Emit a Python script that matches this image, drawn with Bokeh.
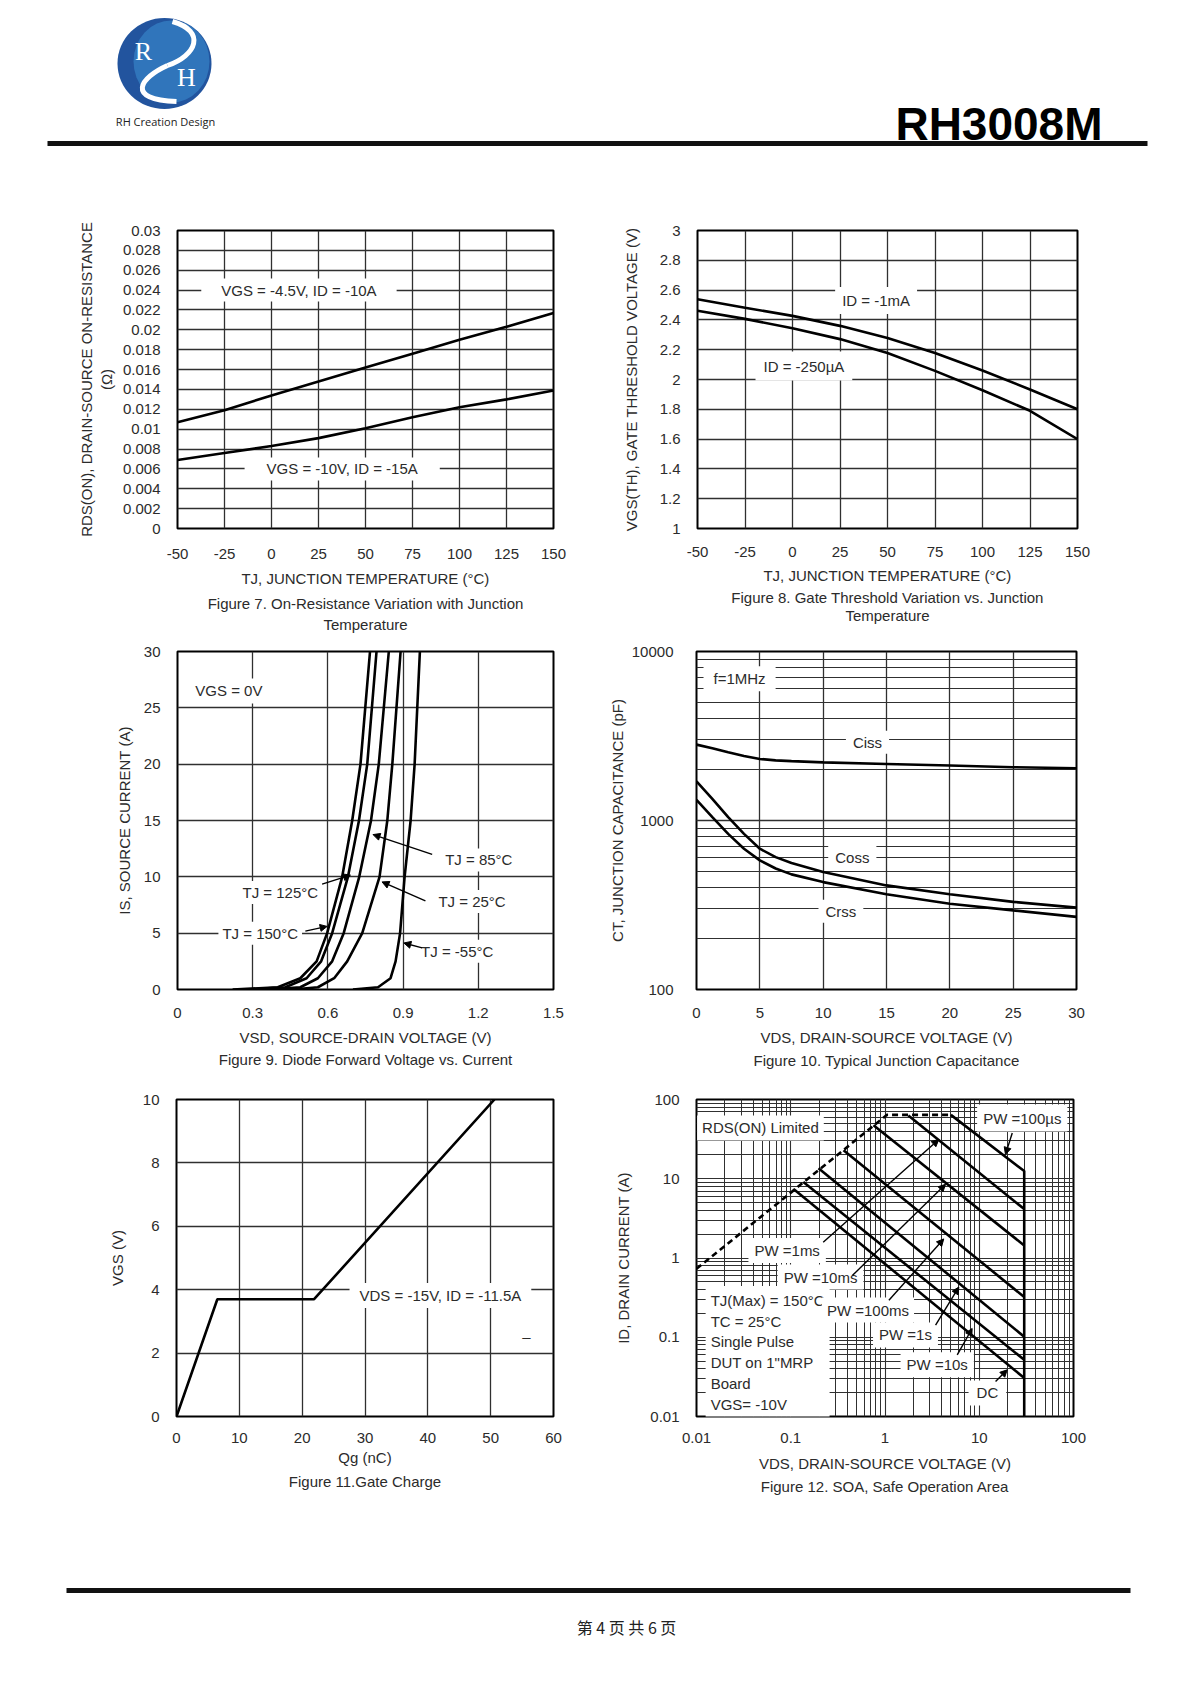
from bokeh.plotting import figure
from bokeh.models import (Range1d, FixedTicker, LogTicker, CustomJSTickFormatter,
                          Label, Arrow, NormalHead, Title)
from bokeh.layouts import column, row
from bokeh.embed import file_html
from bokeh.resources import INLINE
from bokeh.core.properties import value

# ======================= DATA =======================
# Figure 7 - On-resistance vs junction temperature
tj_c = [-50, -25, 0, 25, 50, 75, 100, 125, 150]
rds_vgs45 = [0.0107, 0.0119, 0.0134, 0.0148, 0.0162, 0.0176, 0.0190, 0.0203, 0.0217]
rds_vgs10 = [0.0069, 0.0076, 0.0083, 0.0091, 0.0101, 0.0112, 0.0122, 0.0130, 0.0139]
temp_ticks = [-50, -25, 0, 25, 50, 75, 100, 125, 150]
rds_ticks = [0, 0.002, 0.004, 0.006, 0.008, 0.01, 0.012, 0.014, 0.016,
             0.018, 0.02, 0.022, 0.024, 0.026, 0.028, 0.03]

# Figure 8 - Gate threshold vs junction temperature
vth_1ma = [2.538, 2.482, 2.427, 2.360, 2.278, 2.178, 2.060, 1.933, 1.800]
vth_250ua = [2.462, 2.407, 2.344, 2.271, 2.178, 2.058, 1.928, 1.790, 1.600]
vth_ticks = [1, 1.2, 1.4, 1.6, 1.8, 2, 2.2, 2.4, 2.6, 2.8, 3]

# Figure 9 - Diode forward voltage vs current
is_amp = [0, 0.2, 1, 2.5, 5, 10, 15, 20, 30]
vsd_150 = [0.22, 0.40, 0.490, 0.555, 0.597, 0.657, 0.697, 0.730, 0.768]
vsd_125 = [0.28, 0.43, 0.515, 0.573, 0.617, 0.680, 0.724, 0.757, 0.794]
vsd_85 = [0.36, 0.49, 0.560, 0.617, 0.663, 0.725, 0.772, 0.803, 0.843]
vsd_25 = [0.46, 0.56, 0.625, 0.677, 0.737, 0.806, 0.837, 0.857, 0.890]
vsd_m55 = [0.70, 0.80, 0.850, 0.870, 0.888, 0.906, 0.930, 0.946, 0.967]
vsd_ticks = [0, 0.3, 0.6, 0.9, 1.2, 1.5]
is_ticks = [0, 5, 10, 15, 20, 25, 30]

# Figure 10 - Junction capacitance
cap_vds = [0, 1.25, 2.5, 3.75, 5, 6.25, 7.5, 10, 15, 20, 25, 30]
ciss = [2812, 2680, 2535, 2410, 2312, 2270, 2245, 2208, 2161, 2115, 2066, 2037]
coss = [1706, 1343, 1047, 834, 681, 607, 560, 496, 413, 366, 330, 305]
crss = [1324, 1047, 834, 681, 581, 520, 480, 432, 366, 322, 294, 269]
cap_vds_ticks = [0, 5, 10, 15, 20, 25, 30]

# Figure 11 - Gate charge
qg_nc = [0, 6.5, 21.9, 50.6]
vgs_v = [0, 3.7, 3.7, 10]
qg_ticks = [0, 10, 20, 30, 40, 50, 60]
vgs_ticks = [0, 2, 4, 6, 8, 10]

# Figure 12 - Safe operating area
rds_lim_vds = [0.01, 1.05, 5.0]
rds_lim_id = [0.73, 64, 64]
pw100us_vds = [5.0, 30, 30]
pw100us_id = [64, 12.5, 0.01]
pulse_names = ["1ms", "10ms", "100ms", "1s", "10s", "DC"]
pulse_vds_start = [1.77, 0.755, 0.363, 0.197, 0.136, 0.107]
pulse_id_start = [63, 47.2, 22.9, 13.6, 9.1, 7.43]
pulse_vds_end = [30, 30, 30, 30, 30, 30]
pulse_id_end = [4.14, 1.44, 0.322, 0.1016, 0.0519, 0.0306]

# ======================= STYLE =======================
FONT = "Liberation Sans"
TXT = "#2b2b2b"
GRID = "#303030"
CURVE_W = 2.6
FMT = "return String(Number(tick.toPrecision(6)));"


def make_fig(w, h, bl, br, bt, bb, xr, yr, xlog=False, ylog=False):
    p = figure(width=w, height=h, x_range=xr, y_range=yr,
               x_axis_type="log" if xlog else "linear",
               y_axis_type="log" if ylog else "linear",
               toolbar_location=None, tools="", output_backend="svg",
               min_border_left=bl, min_border_right=br,
               min_border_top=bt, min_border_bottom=bb)
    p.outline_line_color = "black"
    p.outline_line_width = 2
    p.outline_line_alpha = 1
    p.background_fill_color = "white"
    p.border_fill_color = "white"
    for ax in list(p.xaxis) + list(p.yaxis):
        ax.axis_line_color = None
        ax.major_tick_line_color = None
        ax.minor_tick_line_color = None
        ax.major_tick_out = 0
        ax.major_tick_in = 0
        ax.minor_tick_out = 0
        ax.minor_tick_in = 0
        ax.major_label_text_font = FONT
        ax.major_label_text_font_size = "15px"
        ax.major_label_text_color = TXT
        ax.major_label_standoff = 18
        ax.axis_label_text_font = FONT
        ax.axis_label_text_font_size = "15px"
        ax.axis_label_text_font_style = "normal"
        ax.axis_label_text_color = TXT
        ax.formatter = CustomJSTickFormatter(code=FMT)
    p.yaxis.major_label_standoff = 17
    p.grid.grid_line_color = GRID
    p.grid.grid_line_width = 1.3
    p.grid.grid_line_alpha = 1
    return p


def set_ticks(axis, grid, ticks):
    t = FixedTicker(ticks=ticks)
    axis.ticker = t
    grid.ticker = t


def lab(p, x, y, text, align="center", bg=False, pad=(0, 0), size="15px"):
    # pad = (horizontal, vertical)
    kw = dict(x=x, y=y, text=text, text_align=align, text_baseline="middle",
              text_font=FONT, text_font_size=size, text_color=TXT)
    if bg:
        kw.update(background_fill_color="white", background_fill_alpha=1.0,
                  padding=pad)
    p.add_layout(Label(**kw))


def caption(p, text, standoff):
    p.add_layout(Title(text=text, align="center", text_font=FONT,
                       text_font_size="15px", text_font_style="normal",
                       text_color=TXT, standoff=standoff), "below")


def arrow(p, x0, y0, x1, y1, size=7):
    p.add_layout(Arrow(end=NormalHead(size=size, fill_color="black",
                                      line_color="black", line_width=1),
                       x_start=x0, y_start=y0, x_end=x1, y_end=y1,
                       line_width=1.4, line_color="black"))


# ======================= HEADER =======================
hdr = figure(width=1183, height=190, x_range=Range1d(0, 1183),
             y_range=Range1d(190, 0), toolbar_location=None, tools="",
             output_backend="svg", min_border=0,
             x_axis_location=None, y_axis_location=None)
hdr.outline_line_color = None
hdr.grid.visible = False
hdr.ellipse(x=[164], y=[63], width=[94], height=[91], fill_color="#22549e",
            line_color=None)
hdr.ellipse(x=[171], y=[61], width=[76], height=[82], fill_color="#3c8fd3",
            fill_alpha=0.55, line_color=None)
hdr.bezier(x0=[172], y0=[21], x1=[167], y1=[65], cx0=[206], cy0=[31],
           cx1=[196], cy1=[55], line_color="white", line_width=5)
hdr.bezier(x0=[167], y0=[65], x1=[176], y1=[101], cx0=[140], cy0=[77],
           cx1=[124], cy1=[99], line_color="white", line_width=5)
hdr.text(x=[143], y=[51], text=["R"], text_font=value("Liberation Serif"),
         text_font_size="26px", text_color="white", text_align="center",
         text_baseline="middle")
hdr.text(x=[186], y=[77], text=["H"], text_font=value("Liberation Serif"),
         text_font_size="26px", text_color="white", text_align="center",
         text_baseline="middle")
hdr.add_layout(Label(x=165, y=121, text="RH Creation Design", text_align="center",
                     text_baseline="middle", text_font="Open Sans",
                     text_font_size="11px", text_color="#222222"))
hdr.add_layout(Label(x=1102, y=123, text="RH3008M", text_align="right",
                     text_baseline="middle", text_font=FONT,
                     text_font_size="46px", text_font_style="bold",
                     text_color="black"))
hdr.line(x=[47, 1147], y=[143, 143], line_width=5, line_color="#111111")

# ======================= FIGURE 7 =======================
f7 = make_fig(600, 445, 177, 47, 40, 105, Range1d(-50, 150), Range1d(0, 0.03))
set_ticks(f7.xaxis[0], f7.xgrid[0], temp_ticks)
set_ticks(f7.yaxis[0], f7.ygrid[0], rds_ticks)
f7.xaxis.major_label_standoff = 20
f7.xaxis.axis_label = "TJ, JUNCTION TEMPERATURE (°C)"
f7.xaxis.axis_label_standoff = 8
f7.yaxis.axis_label = "RDS(ON), DRAIN-SOURCE ON-RESISTANCE\n(Ω)"
f7.yaxis.axis_label_standoff = 5
f7.line(tj_c, rds_vgs45, line_width=CURVE_W, line_color="black")
f7.line(tj_c, rds_vgs10, line_width=CURVE_W, line_color="black")
lab(f7, 14.6, 0.024, "VGS = -4.5V, ID = -10A", bg=True, pad=(20, 3))
lab(f7, 37.6, 0.006, "VGS = -10V, ID = -15A", bg=True, pad=(22, 3))
caption(f7, "Figure 7. On-Resistance Variation with Junction", 7)
caption(f7, "Temperature", -4)

# ======================= FIGURE 8 =======================
f8 = make_fig(583, 445, 97, 106, 38, 107, Range1d(-50, 150), Range1d(1, 3))
set_ticks(f8.xaxis[0], f8.xgrid[0], temp_ticks)
set_ticks(f8.yaxis[0], f8.ygrid[0], vth_ticks)
f8.xaxis.axis_label = "TJ, JUNCTION TEMPERATURE (°C)"
f8.xaxis.axis_label_standoff = 7
f8.yaxis.axis_label = "VGS(TH), GATE THRESHOLD VOLTAGE (V)"
f8.yaxis.axis_label_standoff = 17
f8.line(tj_c, vth_1ma, line_width=CURVE_W, line_color="black")
f8.line(tj_c, vth_250ua, line_width=CURVE_W, line_color="black")
lab(f8, 44, 2.53, "ID = -1mA", bg=True, pad=(7, 5))
lab(f8, 6, 2.09, "ID = -250µA", bg=True, pad=(8, 6))
caption(f8, "Figure 8. Gate Threshold Variation vs. Junction", 1)
caption(f8, "Temperature", -4)

# ======================= FIGURE 9 =======================
f9 = make_fig(600, 440, 177, 47, 15, 86, Range1d(0, 1.5), Range1d(0, 30))
set_ticks(f9.xaxis[0], f9.xgrid[0], vsd_ticks)
set_ticks(f9.yaxis[0], f9.ygrid[0], is_ticks)
f9.xaxis.axis_label = "VSD, SOURCE-DRAIN VOLTAGE (V)"
f9.xaxis.axis_label_standoff = 8
f9.yaxis.axis_label = "IS, SOURCE CURRENT (A)"
f9.yaxis.axis_label_standoff = 8
for vs in (vsd_150, vsd_125, vsd_85, vsd_25, vsd_m55):
    f9.line(vs, is_amp, line_width=CURVE_W, line_color="black")
lab(f9, 0.205, 26.5, "VGS = 0V", bg=True, pad=(6, 4))
lab(f9, 1.202, 11.5, "TJ = 85°C", bg=True, pad=(4, 3))
lab(f9, 0.41, 8.6, "TJ = 125°C", bg=True, pad=(4, 3))
lab(f9, 1.175, 7.8, "TJ = 25°C", bg=True, pad=(4, 3))
lab(f9, 0.33, 5.0, "TJ = 150°C", bg=True, pad=(4, 3))
lab(f9, 1.116, 3.4, "TJ = -55°C", bg=True, pad=(4, 3))
arrow(f9, 1.016, 12.0, 0.78, 13.75)
arrow(f9, 0.577, 9.35, 0.69, 10.15)
arrow(f9, 0.989, 7.86, 0.816, 9.55)
arrow(f9, 0.51, 5.18, 0.597, 5.6)
arrow(f9, 0.976, 3.69, 0.903, 4.13)
caption(f9, "Figure 9. Diode Forward Voltage vs. Current", 1)

# ======================= FIGURE 10 =======================
f10 = make_fig(583, 440, 96, 107, 16, 86, Range1d(0, 30), Range1d(100, 10000),
               ylog=True)
set_ticks(f10.xaxis[0], f10.xgrid[0], cap_vds_ticks)
lt10 = LogTicker(num_minor_ticks=10)
f10.yaxis[0].ticker = lt10
f10.ygrid[0].ticker = lt10
f10.ygrid.minor_grid_line_color = GRID
f10.ygrid.minor_grid_line_width = 1.1
f10.yaxis.major_label_standoff = 23
f10.xaxis.axis_label = "VDS, DRAIN-SOURCE VOLTAGE (V)"
f10.xaxis.axis_label_standoff = 8
f10.yaxis.axis_label = "CT, JUNCTION CAPACITANCE (pF)"
f10.yaxis.axis_label_standoff = 3
f10.line(cap_vds, ciss, line_width=CURVE_W, line_color="black")
f10.line(cap_vds, coss, line_width=CURVE_W, line_color="black")
f10.line(cap_vds, crss, line_width=CURVE_W, line_color="black")
lab(f10, 3.4, 6900, "f=1MHz", bg=True, pad=(10, 4))
lab(f10, 13.5, 2900, "Ciss", bg=True, pad=(7, 3))
lab(f10, 12.3, 606, "Coss", bg=True, pad=(7, 3))
lab(f10, 11.4, 290, "Crss", bg=True, pad=(7, 3))
caption(f10, "Figure 10. Typical Junction Capacitance", 3)

# ======================= FIGURE 11 =======================
f11 = make_fig(600, 435, 176, 47, 24, 94, Range1d(0, 60), Range1d(0, 10))
set_ticks(f11.xaxis[0], f11.xgrid[0], qg_ticks)
set_ticks(f11.yaxis[0], f11.ygrid[0], vgs_ticks)
f11.xaxis.major_label_standoff = 16
f11.xaxis.axis_label = "Qg (nC)"
f11.xaxis.axis_label_standoff = 3
f11.yaxis.axis_label = "VGS (V)"
f11.yaxis.axis_label_standoff = 14
f11.line(qg_nc, vgs_v, line_width=CURVE_W, line_color="black")
lab(f11, 42, 3.82, "VDS = -15V, ID = -11.5A", bg=True, pad=(10, 4))
lab(f11, 55.7, 2.52, "–")
caption(f11, "Figure 11.Gate Charge", 5)

# ======================= FIGURE 12 =======================
f12 = make_fig(583, 435, 96, 110, 24, 93, Range1d(0.01, 100), Range1d(0.01, 100),
               xlog=True, ylog=True)
ltx = LogTicker(num_minor_ticks=10)
lty = LogTicker(num_minor_ticks=10)
f12.xaxis[0].ticker = ltx
f12.xgrid[0].ticker = ltx
f12.yaxis[0].ticker = lty
f12.ygrid[0].ticker = lty
f12.grid.grid_line_width = 1.1
f12.grid.minor_grid_line_color = GRID
f12.grid.minor_grid_line_width = 1.0
f12.xaxis.major_label_standoff = 16
f12.xaxis.axis_label = "VDS, DRAIN-SOURCE VOLTAGE (V)"
f12.xaxis.axis_label_standoff = 9
f12.yaxis.axis_label = "ID, DRAIN CURRENT (A)"
f12.yaxis.axis_label_standoff = 15
f12.line(rds_lim_vds, rds_lim_id, line_width=CURVE_W, line_color="black",
         line_dash="6 4")
f12.line(pw100us_vds, pw100us_id, line_width=CURVE_W, line_color="black")
for i in range(len(pulse_names)):
    f12.line([pulse_vds_start[i], pulse_vds_end[i]],
             [pulse_id_start[i], pulse_id_end[i]],
             line_width=CURVE_W, line_color="black")
f12.add_layout(Label(x=0.0125, y=0.0645,
                     text="TJ(Max) = 150°C\nTC = 25°C\nSingle Pulse\nDUT on 1\"MRP\nBoard\nVGS= -10V",
                     text_align="left", text_baseline="middle", text_font=FONT,
                     text_font_size="15px", text_color=TXT, text_line_height=1.22,
                     background_fill_color="white", background_fill_alpha=1.0,
                     padding=(5, 6)))
lab(f12, 0.0477, 43.7, "RDS(ON) Limited", bg=True, pad=(5, 4))
lab(f12, 28.6, 58.3, "PW =100µs", bg=True, pad=(6, 5))
lab(f12, 0.0916, 1.24, "PW =1ms", bg=True, pad=(6, 4))
lab(f12, 0.207, 0.575, "PW =10ms", bg=True, pad=(6, 4))
lab(f12, 0.66, 0.22, "PW =100ms", bg=True, pad=(5, 4))
lab(f12, 1.65, 0.107, "PW =1s", bg=True, pad=(6, 4))
lab(f12, 3.58, 0.0449, "PW =10s", bg=True, pad=(6, 4))
lab(f12, 12.2, 0.0198, "DC", bg=True, pad=(8, 4))
arrow(f12, 22.4, 37.8, 18.97, 20.3)
arrow(f12, 0.221, 1.58, 3.72, 31.3)
arrow(f12, 0.45, 0.6, 4.39, 8.5)
arrow(f12, 1.1, 0.293, 4.2, 1.74)
arrow(f12, 3.44, 0.1426, 6.07, 0.43)
arrow(f12, 5.84, 0.06, 8.41, 0.129)
arrow(f12, 14.9, 0.0277, 19.8, 0.0388)
caption(f12, "Figure 12. SOA, Safe Operation Area", 3)

# ======================= FOOTER =======================
ftr = figure(width=1183, height=170, x_range=Range1d(0, 1183),
             y_range=Range1d(1680, 1510), toolbar_location=None, tools="",
             output_backend="svg", min_border=0,
             x_axis_location=None, y_axis_location=None)
ftr.outline_line_color = None
ftr.grid.visible = False
ftr.line(x=[66, 1130], y=[1590, 1590], line_width=5, line_color="#111111")
ftr.add_layout(Label(x=626, y=1626, text="第 4 页 共 6 页", text_align="center",
                     text_baseline="middle", text_font="Noto Sans CJK SC",
                     text_font_size="16px", text_color="#222222"))

page = column(hdr, row(f7, f8), row(f9, f10), row(f11, f12), ftr)
open("out.html", "w").write(file_html(page, INLINE))
